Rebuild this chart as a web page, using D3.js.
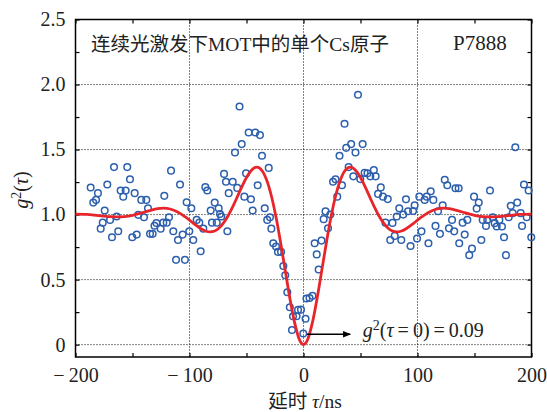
<!DOCTYPE html>
<html lang="zh">
<head>
<meta charset="UTF-8" />
<title>g2 single Cs atom</title>
<script src="https://cdn.jsdelivr.net/npm/d3@7"></script>
<style>
  body { margin: 0; background: #fff; }
  svg text { font-family: "Liberation Serif", "Noto Sans CJK SC", serif; fill: #222; }
</style>
</head>
<body>
<svg id="chart" width="547" height="412"></svg>
<script>
// measured points: delay tau (ns) and g2 value
var tau = [-186.7,-184.4,-182.0,-180.3,-177.9,-176.1,-174.4,-172.1,-169.7,-168.0,-166.2,-163.9,-162.5,-160.4,-158.1,-156.0,-154.6,-152.2,-150.2,-148.1,
  -146.3,-144.9,-142.3,-139.9,-137.9,-136.4,-134.6,-132.3,-130.7,-129.0,-125.3,-123.0,-122.1,-120.0,-118.0,-116.2,-114.2,-111.8,-110.1,-108.3,
  -106.0,-104.0,-102.5,-100.2,-98.4,-96.7,-93.7,-91.4,-90.2,-87.9,-86.1,-84.4,-81.4,-80.3,-77.9,-76.1,-74.4,-73.2,-72.1,-69.7,
  -68.0,-66.8,-65.6,-62.1,-60.1,-58.1,-56.1,-54.2,-51.9,-50.4,-48.1,-46.1,-44.6,-42.3,-40.2,-38.2,-36.4,-34.0,-31.8,-30.5,
  -29.4,-28.2,-26.5,-24.1,-22.4,-19.7,-17.7,-16.0,-14.2,-12.0,-10.1,-9.2,-6.1,-4.8,-2.2,-0.2,1.8,2.6,5.3,7.9,
  9.8,11.6,13.3,15.8,17.7,19.3,21.5,23.5,25.9,28.1,29.6,31.6,33.8,36.0,37.5,39.6,41.8,43.7,45.6,47.8,
  49.8,51.9,53.6,56.1,58.6,61.7,63.3,65.4,67.8,69.7,71.9,73.9,76.1,78.1,80.0,81.8,84.0,85.8,87.5,89.9,
  91.7,93.9,96.1,97.5,99.6,101.6,103.5,106.3,108.1,109.6,111.6,113.9,115.8,118.0,119.7,122.1,123.9,126.1,127.6,130.3,
  132.2,133.3,136.6,136.1,139.6,141.4,143.7,145.4,147.8,149.6,151.9,153.7,156.0,157.2,160.1,161.2,163.6,166.0,167.7,169.5,
  171.8,174.1,175.9,177.6,180.0,181.8,183.5,185.8,187.5,190.5,191.7,193.4,195.8,197.5,199.8];
var g2 = [1.208,1.092,1.113,1.165,0.892,0.938,1.031,1.231,0.959,0.826,1.365,0.985,0.872,1.185,1.138,1.185,1.365,1.272,0.826,1.165,
  0.846,0.998,1.113,0.980,1.113,1.049,0.852,0.852,0.914,0.935,0.891,0.938,1.144,0.938,0.980,1.338,0.872,0.652,0.805,1.231,
  0.846,0.652,1.095,0.872,1.049,0.805,0.959,0.938,0.718,0.892,1.211,1.185,1.031,0.938,1.092,0.938,1.049,1.005,0.985,1.313,
  1.252,0.872,1.165,1.252,1.477,1.205,1.831,1.542,1.138,1.318,1.631,1.118,1.031,1.631,1.226,1.611,1.452,1.049,0.959,1.359,
  0.980,0.892,0.780,0.754,0.713,0.713,0.605,0.534,0.403,0.288,0.113,0.218,0.218,0.267,0.269,0.086,0.199,0.355,0.359,0.376,
  0.780,0.694,0.578,0.800,0.965,1.025,0.894,1.000,1.252,1.272,1.138,1.452,1.226,1.698,1.513,1.365,1.542,1.294,1.477,1.921,
  1.273,1.542,1.321,1.318,1.294,1.342,1.294,1.159,1.209,1.138,0.938,1.119,0.805,0.936,0.836,0.985,1.048,0.805,1.000,1.118,
  1.026,0.759,1.028,1.072,0.816,1.138,0.871,1.113,1.138,0.780,1.180,1.113,0.913,1.026,0.852,1.072,1.267,1.226,0.894,0.959,
  0.871,1.203,0.780,1.203,0.938,0.846,0.959,0.688,0.738,1.138,1.046,1.092,0.805,0.959,0.913,0.959,1.185,0.980,0.934,0.908,
  0.959,0.908,0.826,0.688,0.980,1.067,1.011,1.518,1.092,1.011,0.913,1.231,0.980,1.185,0.826];

// fitted curve
var fitTau = [-200,-190,-180,-170,-164,-157,-150,-142,-135,-128,-123,-117,-110,-104,-100,-95,-90,-86,-82,-78,-74,-70,-66,-62,-58,-54,-50,-46,-43,-41,-39,-36,-32,-28,-24,-20,-16,-12,-8,-4,-2,
  0,2,4,8,12,16,20,24,28,32,36,39,41,43,46,50,54,58,62,66,70,74,78,82,86,90,95,100,104,110,117,123,128,135,142,150,157,164,170,180,190,200];
var fitG2 = [1.003,1.001,0.992,0.984,0.982,0.985,0.994,1.013,1.030,1.045,1.049,1.043,1.018,0.984,0.957,0.922,0.891,0.874,0.867,0.874,0.897,0.938,0.993,1.062,1.138,1.215,1.285,1.337,1.360,1.365,1.360,1.333,1.258,1.137,0.975,0.780,0.569,0.359,0.177,0.048,0.013,
  0,0.013,0.048,0.177,0.359,0.569,0.780,0.975,1.137,1.258,1.333,1.360,1.365,1.360,1.337,1.285,1.215,1.138,1.062,0.993,0.938,0.897,0.874,0.867,0.874,0.891,0.922,0.957,0.984,1.018,1.043,1.049,1.045,1.030,1.013,0.994,0.985,0.982,0.984,0.992,1.001,1.003];

var xLabels = [-200,-100,0,100,200];
var xTicks = [-200,-150,-100,-50,0,50,100,150,200];
var yLabels = [0,0.5,1.0,1.5,2.0,2.5];
var yTicks = [0,0.25,0.5,0.75,1.0,1.25,1.5,1.75,2.0,2.25,2.5];
var xGrid = [-100,0,100];
var yGrid = [0,0.5,1.0,1.5,2.0];

var plotL = 75.5, plotR = 531.5, plotT = 19.5, plotB = 357;

var svg = d3.select("#chart");

var x = d3.scaleLinear().domain([-200,200]).range([plotL,plotR]);
var y = d3.scaleLinear().domain([-0.095,2.5]).range([plotB,plotT]);

// dotted grid
svg.append("g").selectAll("line").data(xGrid).enter().append("line")
  .attr("x1",function(d){return x(d);}).attr("x2",function(d){return x(d);})
  .attr("y1",plotT).attr("y2",plotB)
  .attr("stroke","#000").attr("stroke-width",1).attr("stroke-dasharray","1,2");
svg.append("g").selectAll("line").data(yGrid).enter().append("line")
  .attr("y1",function(d){return y(d);}).attr("y2",function(d){return y(d);})
  .attr("x1",plotL).attr("x2",plotR)
  .attr("stroke","#000").attr("stroke-width",1).attr("stroke-dasharray","1,2");

// tick marks (inward, all four sides)
function tickAxis(axis, tr) {
  var g = svg.append("g").attr("transform",tr).call(axis);
  g.select(".domain").remove();
  g.selectAll("text").remove();
  g.selectAll("line").attr("stroke","#000").attr("stroke-width",1.2);
}
tickAxis(d3.axisBottom(x).tickValues(xTicks).tickSize(-4), "translate(0,"+plotB+")");
tickAxis(d3.axisTop(x).tickValues(xTicks).tickSize(-4), "translate(0,"+plotT+")");
tickAxis(d3.axisLeft(y).tickValues(yTicks).tickSize(-4), "translate("+plotL+",0)");
tickAxis(d3.axisRight(y).tickValues(yTicks).tickSize(-4), "translate("+plotR+",0)");

// labels
var xa = svg.append("g").attr("transform","translate(0,"+plotB+")")
  .call(d3.axisBottom(x).tickValues(xLabels).tickSize(0).tickPadding(11)
    .tickFormat(function(d){ return d < 0 ? "\u2212\u2009" + Math.abs(d) : String(d); }));
xa.select(".domain").remove();
xa.selectAll("text").attr("font-size","20px").attr("font-family","Liberation Serif").attr("fill","#222");

var ya = svg.append("g").attr("transform","translate("+plotL+",0)")
  .call(d3.axisLeft(y).tickValues(yLabels).tickSize(0).tickPadding(10)
    .tickFormat(function(d){ return d === 0 ? "0" : d3.format(".1f")(d); }));
ya.select(".domain").remove();
ya.selectAll("text").attr("font-size","20px").attr("font-family","Liberation Serif").attr("fill","#222");

// frame
svg.append("rect").attr("x",plotL).attr("y",plotT)
  .attr("width",plotR-plotL).attr("height",plotB-plotT)
  .attr("fill","none").attr("stroke","#000").attr("stroke-width",1.5);

// data points
svg.append("g").selectAll("circle").data(tau).enter().append("circle")
  .attr("cx",function(d){return x(d);})
  .attr("cy",function(d,i){return y(g2[i]);})
  .attr("r",3.3)
  .attr("fill","none")
  .attr("stroke","#2c5fad")
  .attr("stroke-width",1.5);

// fit line
var line = d3.line()
  .x(function(d){return x(d);})
  .y(function(d,i){return y(fitG2[i]);})
  .curve(d3.curveCatmullRom);
svg.append("path").datum(fitTau)
  .attr("d",line)
  .attr("fill","none")
  .attr("stroke","#e8252b")
  .attr("stroke-width",2.8);

// arrow annotation
svg.append("defs").append("marker")
  .attr("id","arr").attr("viewBox","0 0 10 10").attr("refX",9).attr("refY",5)
  .attr("markerWidth",10).attr("markerHeight",8).attr("markerUnits","userSpaceOnUse")
  .attr("orient","auto")
  .append("path").attr("d","M0,1 L10,5 L0,9 Z").attr("fill","#000");
svg.append("line")
  .attr("x1",x(3)).attr("x2",x(41))
  .attr("y1",y(0.08)).attr("y2",y(0.08))
  .attr("stroke","#000").attr("stroke-width",1.5)
  .attr("marker-end","url(#arr)");

var ann = svg.append("text").attr("x",x(52)).attr("y",y(0.09)+4).attr("font-size","20px");
ann.append("tspan").attr("font-style","italic").text("g");
ann.append("tspan").attr("font-size","14px").attr("dy",-7).text("2");
ann.append("tspan").attr("dy",7).text("(");
ann.append("tspan").attr("font-style","italic").text("τ");
ann.append("tspan").text("\u2009=\u20090)\u2009=\u20090.09");

// title and code
svg.append("text").attr("x",91).attr("y",51).attr("font-size","19.5px")
  .text("连续光激发下MOT中的单个Cs原子");
svg.append("text").attr("x",453).attr("y",50).attr("font-size","21px")
  .text("P7888");

// axis titles
var xt = svg.append("text").attr("x",305).attr("y",408).attr("text-anchor","middle").attr("font-size","19.5px");
xt.append("tspan").text("延时 ");
xt.append("tspan").attr("font-style","italic").text("τ");
xt.append("tspan").text("/ns");

var yt = svg.append("text").attr("transform","translate(28,190) rotate(-90)")
  .attr("text-anchor","middle").attr("font-size","20px");
yt.append("tspan").attr("font-style","italic").text("g");
yt.append("tspan").attr("font-size","14px").attr("dy",-7).text("2");
yt.append("tspan").attr("dy",7).text("(");
yt.append("tspan").attr("font-style","italic").text("τ");
yt.append("tspan").text(")");
</script>
</body>
</html>
